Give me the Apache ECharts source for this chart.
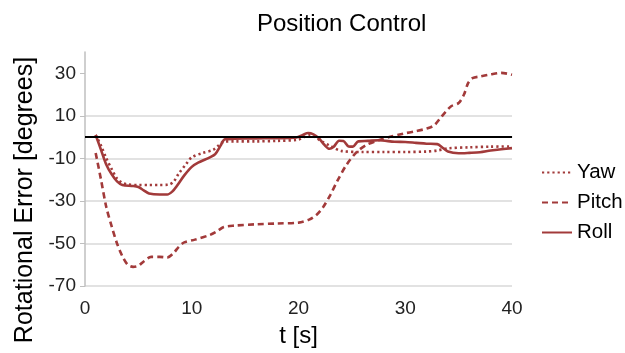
<!DOCTYPE html>
<html><head><meta charset="utf-8">
<script src="https://cdn.jsdelivr.net/npm/echarts@6/dist/echarts.min.js"></script>
<style>html,body{margin:0;padding:0;background:#fff}#c{width:625px;height:353px}</style>
</head><body><div id="c"></div>
<script>
const titleText = 'Position Control';
const xName = 't [s]';
const yName = 'Rotational Error [degrees]';
const yTicks = [-70, -50, -30, -10, 10, 30];
const seriesNames = ['Yaw', 'Pitch', 'Roll'];
const yaw = [[1,1],[1.5,-4],[2,-10],[2.5,-15],[3,-19.5],[3.5,-21.5],[4,-22.3],[5,-22.5],[6,-22.5],[7,-22.5],[7.8,-22.4],[8.3,-21],[8.8,-17],[9.5,-12.5],[10,-9.5],[11,-7.5],[12,-6],[12.5,-4],[13,-2.2],[14,-2],[16,-2],[18,-1.8],[20,-1.2],[20.5,0],[21,1],[21.5,0.2],[22,-1.5],[23,-4.2],[24,-6.5],[26,-7],[28,-7],[30,-7],[32,-6.8],[33,-6.3],[34,-5.3],[36,-4.8],[38,-4.5],[40,-4.4]];
const pitch = [[1,-7.5],[1.5,-20],[2,-33],[2.5,-42],[3,-50],[3.5,-56],[4,-60],[4.5,-61],[5,-60.5],[5.5,-58.5],[6.2,-56.3],[7,-56.3],[7.7,-56.6],[8.3,-54.5],[8.8,-51.5],[9.3,-49.5],[10.3,-48.2],[11.7,-46],[12.3,-44.5],[13,-42.3],[14,-41.6],[16,-41],[18,-40.6],[20,-40.2],[21,-38.8],[21.7,-36.5],[22.3,-33],[23,-27],[23.6,-21],[24.5,-13],[25.5,-6.8],[26.4,-3.6],[27.5,-1.5],[28.5,0],[29.8,1.6],[31,2.8],[32,4],[32.7,5.5],[33.3,9],[33.8,12],[34.3,14.5],[35,16],[35.5,20],[35.9,25.5],[36.3,27.7],[37,28.5],[38,29.5],[39,30.2],[40,29.3]];
const roll = [[1,1],[1.5,-6],[2,-13],[2.5,-17.5],[3,-20.8],[3.5,-22.5],[4.5,-23],[5,-23.5],[5.5,-25],[6,-26.5],[7,-27],[7.7,-27],[8.2,-25.5],[8.6,-23],[9.3,-18],[10,-14],[10.6,-12],[11.7,-9.5],[12.2,-8],[12.7,-4],[13.1,-1],[14,-0.8],[16,-0.6],[18,-0.5],[19.8,-0.2],[20.4,1],[20.9,1.9],[21.4,1.3],[21.9,-0.5],[22.4,-3.5],[22.9,-5.5],[23.3,-4.5],[23.8,-1.7],[24.2,-1.8],[24.7,-4.4],[25.1,-4.5],[25.6,-2],[26.5,-1.8],[27.5,-1.5],[29,-2.2],[30,-2.3],[31,-2.7],[32,-3.1],[33,-3.3],[33.5,-5],[34,-6.8],[35,-7.6],[36,-7.4],[37,-7.1],[38,-6.3],[39,-5.7],[40,-5.2]];
const refLine = 0;

const color = '#a23a3a';
const font = 'Liberation Sans, Arial, sans-serif';
const chart = echarts.init(document.getElementById('c'));
function mk(name, data, type, width) {
  return {name, type:'line', data, smooth:0.3, symbol:'none', showSymbol:false,
    lineStyle:{color, width, type}, itemStyle:{color}, z:3, animation:false};
}
const s = [mk(seriesNames[0], yaw, [2.2,3], 2.6), mk(seriesNames[1], pitch, [6,4], 2.6), mk(seriesNames[2], roll, 'solid', 2.6)];
s.push({type:'line', data:[], markLine:{silent:true, symbol:'none', label:{show:false},
  lineStyle:{color:'#000', width:2, type:'solid'}, data:[{yAxis:refLine}]}, z:2, animation:false});
chart.setOption({
  animation:false,
  title:{text:titleText, left:252, top:7, textStyle:{fontFamily:font, fontSize:24, fontWeight:'normal', color:'#000'}},
  grid:{left:85, right:113, top:52, bottom:66.5, containLabel:false},
  legend:{orient:'vertical', left:536, top:157, padding:5, itemWidth:30, itemHeight:14, itemGap:9,
    itemStyle:{opacity:0},
    data:seriesNames, textStyle:{fontFamily:font, fontSize:20.5, color:'#000'}},
  graphic:[{type:'text', x:25, y:200, rotation:Math.PI/2,
    style:{text:yName, font:'25px ' + font, fill:'#000', textAlign:'center', textVerticalAlign:'middle'}}],
  xAxis:{type:'value', min:0, max:40, interval:10, name:xName, nameLocation:'middle', nameGap:38,
    nameTextStyle:{fontFamily:font, fontSize:24, color:'#000'},
    axisLine:{show:true, lineStyle:{color:'#d9d9d9', width:1.5}}, axisTick:{show:false},
    axisLabel:{fontFamily:font, fontSize:19, color:'#222', margin:13},
    splitLine:{show:false}},
  yAxis:{type:'value', min:-70, max:40, interval:20,
    axisLine:{show:true, lineStyle:{color:'#bfbfbf', width:1.5}},
    axisTick:{show:true, length:5, lineStyle:{color:'#bfbfbf'}, customValues:yTicks},
    axisLabel:{fontFamily:font, fontSize:19, color:'#222', margin:9, customValues:yTicks},
    splitLine:{show:true, showMaxLine:false, lineStyle:{color:'#d9d9d9', width:1.5}}},
  series:s
});
</script></body></html>
